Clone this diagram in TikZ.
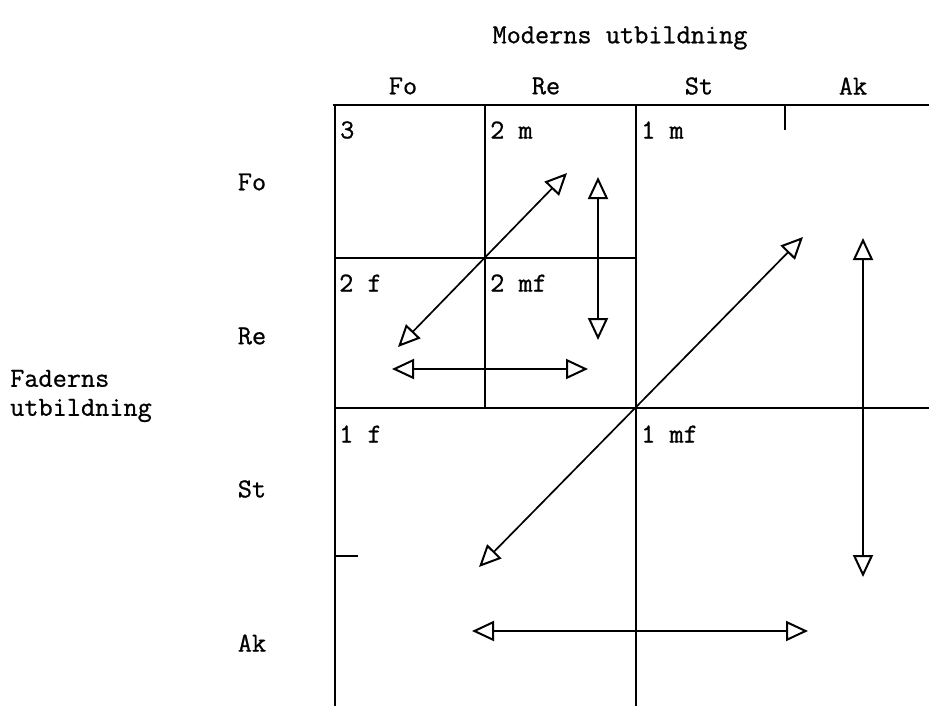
\documentclass[tikz,border=0pt]{standalone}
\usepackage{fontspec}
\setmonofont[FakeBold=0.8]{Latin Modern Mono}
\usetikzlibrary{arrows.meta}
\begin{document}
\begin{tikzpicture}[x=1pt,y=-1pt,
  every node/.style={font=\ttfamily\fontsize{27.5}{31}\selectfont, inner sep=0pt},
  rubrik/.style={anchor=center},
  cell/.style={anchor=west},
  rutnat/.style={line width=1.8pt},
  pil/.style={line width=1.7pt, {Triangle[open,length=22pt,width=20pt,line width=2pt]}-{Triangle[open,length=22pt,width=20pt,line width=2pt]}}
]
\useasboundingbox (0,0) rectangle (929,706);
\node[rubrik] (moder) at (620,38) {Moderns utbildning};
\node[rubrik] (kFo) at (403,86) {Fo};
\node[rubrik] (kRe) at (546,86) {Re};
\node[rubrik] (kSt) at (699,86) {St};
\node[rubrik] (kAk) at (853,86) {Ak};
\node[rubrik] (rFo) at (252,182) {Fo};
\node[rubrik] (rRe) at (252,336) {Re};
\node[rubrik] (rSt) at (252,489) {St};
\node[rubrik] (rAk) at (252,643) {Ak};
\node[anchor=west, align=left, font=\ttfamily\fontsize{27.5}{29}\selectfont] (fader) at (10,396) {Faderns\\utbildning};
\draw[rutnat] (333,105) -- (929,105);
\draw[rutnat] (335,105) -- (335,706);
\draw[rutnat] (485,105) -- (485,408);
\draw[rutnat] (636,105) -- (636,706);
\draw[rutnat] (335,258) -- (636,258);
\draw[rutnat] (335,408) -- (929,408);
\draw[rutnat] (785,105) -- (785,130);
\draw[rutnat] (335,556) -- (358,556);
\node[cell] (c3) at (340,130) {3};
\node[cell] (c2m) at (490,130) {2 m};
\node[cell] (c1m) at (641,130) {1 m};
\node[cell] (c2f) at (339,283) {2 f};
\node[cell] (c2mf) at (490,283) {2 mf};
\node[cell] (c1f) at (339,434) {1 f};
\node[cell] (c1mf) at (641,434) {1 mf};
\coordinate (a1) at (398,347);
\coordinate (a2) at (567,173);
\coordinate (b1) at (598,177);
\coordinate (b2) at (598,340);
\coordinate (h1) at (392,369);
\coordinate (h2) at (588,369);
\coordinate (A1) at (479,567);
\coordinate (A2) at (803,237);
\coordinate (B1) at (863,238);
\coordinate (B2) at (863,577);
\coordinate (H1) at (472,631);
\coordinate (H2) at (808,631);
\draw[pil] (a1) -- (a2);
\draw[pil] (b1) -- (b2);
\draw[pil] (h1) -- (h2);
\draw[pil] (A1) -- (A2);
\draw[pil] (B1) -- (B2);
\draw[pil] (H1) -- (H2);
\end{tikzpicture}
\end{document}
